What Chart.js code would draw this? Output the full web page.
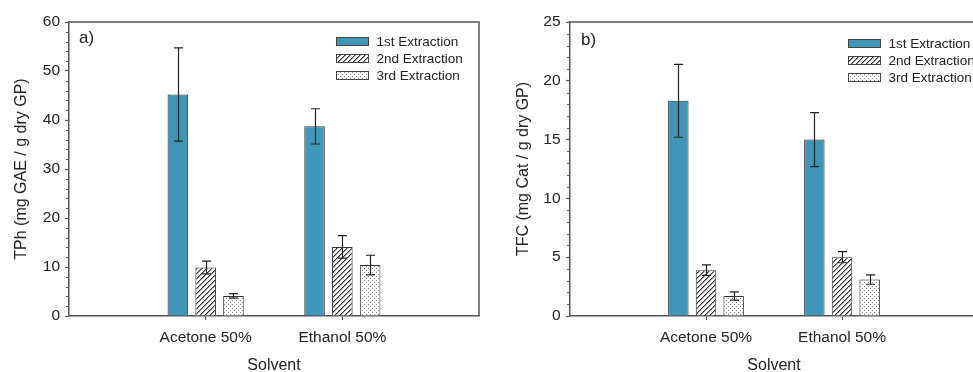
<!DOCTYPE html>
<html>
<head>
<meta charset="utf-8">
<script src="https://cdn.jsdelivr.net/npm/chart.js@4.4.1/dist/chart.umd.min.js"></script>
<style>
  html, body { margin: 0; padding: 0; background: #fff; }
  #wrap { position: relative; width: 973px; height: 372px; overflow: hidden; }
  .panel { position: absolute; top: 0; }
  #panelA { left: 0; }
  #panelB { left: 490px; }
</style>
</head>
<body>
<div id="wrap">
  <div class="panel" id="panelA"><canvas id="chartA" width="490" height="380"></canvas></div>
  <div class="panel" id="panelB"><canvas id="chartB" width="500" height="380"></canvas></div>
</div>
<script>
// categories and series
const solvents = ['Acetone 50%', 'Ethanol 50%'];
const extractions = ['1st Extraction', '2nd Extraction', '3rd Extraction'];

// a) total phenolics, mg GAE / g dry GP
const tphFirst = [45.2, 38.7];
const tphSecond = [9.9, 14.1];
const tphThird = [4.1, 10.4];
const tphFirstErr = [9.5, 3.6];
const tphSecondErr = [1.3, 2.3];
const tphThirdErr = [0.45, 2.0];

// b) total flavonoids, mg Cat / g dry GP
const tfcFirst = [18.3, 15.0];
const tfcSecond = [3.9, 5.0];
const tfcThird = [1.7, 3.1];
const tfcFirstErr = [3.1, 2.3];
const tfcSecondErr = [0.45, 0.47];
const tfcThirdErr = [0.35, 0.4];

Chart.defaults.font.family = "'Liberation Sans', Arial, sans-serif";
Chart.defaults.color = '#222';

const AXIS = '#555';
const BLUE = '#4096b6';

function hatch(ctx) {
  const c = document.createElement('canvas');
  c.width = 5; c.height = 5;
  const g = c.getContext('2d');
  g.fillStyle = '#fff'; g.fillRect(0, 0, 5, 5);
  g.fillStyle = '#333';
  for (let i = 0; i < 5; i++) g.fillRect(i, 4 - i, 1, 1);
  g.fillStyle = '#999';
  for (let i = 0; i < 5; i++) g.fillRect((i + 1) % 5, 4 - i, 1, 1);
  return ctx.createPattern(c, 'repeat');
}

function dots(ctx) {
  const c = document.createElement('canvas');
  c.width = 4; c.height = 4;
  const g = c.getContext('2d');
  g.fillStyle = '#fff'; g.fillRect(0, 0, 4, 4);
  g.fillStyle = '#8a8a8a';
  g.fillRect(0, 0, 1, 1);
  g.fillRect(2, 2, 1, 1);
  return ctx.createPattern(c, 'repeat');
}

// pad with empty slots on both ends so the groups sit at 1/3 and 2/3
const pad = arr => [null, ...arr, null];

// error bars, frame, minor ticks, panel letter and legend
const decor = {
  id: 'decor',
  afterDatasetsDraw(chart, args, opts) {
    const ctx = chart.ctx;
    const y = chart.scales.y;
    ctx.save();
    ctx.strokeStyle = '#222';
    ctx.lineWidth = 1.2;
    chart.data.datasets.forEach((ds, i) => {
      chart.getDatasetMeta(i).data.forEach((bar, j) => {
        const v = ds.data[j];
        if (v == null) return;
        const e = ds.errors[j];
        const top = y.getPixelForValue(v + e);
        const bot = y.getPixelForValue(v - e);
        const x = Math.round(bar.x) + 0.5;
        ctx.beginPath();
        ctx.moveTo(x, top); ctx.lineTo(x, bot);
        ctx.moveTo(x - 4.5, top); ctx.lineTo(x + 4.5, top);
        ctx.moveTo(x - 4.5, bot); ctx.lineTo(x + 4.5, bot);
        ctx.stroke();
      });
    });
    ctx.restore();
  },
  afterDraw(chart, args, opts) {
    const ctx = chart.ctx;
    const a = chart.chartArea;
    const y = chart.scales.y;
    ctx.save();
    // top and right frame
    ctx.strokeStyle = AXIS;
    ctx.lineWidth = 1.5;
    ctx.beginPath();
    ctx.moveTo(a.left, a.top);
    ctx.lineTo(a.right, a.top);
    ctx.lineTo(a.right, a.bottom);
    ctx.stroke();
    // minor ticks on y
    ctx.lineWidth = 1;
    ctx.beginPath();
    for (let v = y.min; v <= y.max + 1e-9; v += opts.minor) {
      if (Math.abs(v / opts.major - Math.round(v / opts.major)) < 1e-6) continue;
      const py = Math.round(y.getPixelForValue(v)) + 0.5;
      ctx.moveTo(a.left - 3, py);
      ctx.lineTo(a.left, py);
    }
    ctx.stroke();
    // panel letter
    ctx.fillStyle = '#222';
    ctx.font = "17px 'Liberation Sans', Arial, sans-serif";
    ctx.textBaseline = 'middle';
    ctx.textAlign = 'left';
    ctx.fillText(opts.letter, a.left + opts.letterX, a.top + opts.letterY);
    // legend
    ctx.font = "13.5px 'Liberation Sans', Arial, sans-serif";
    chart.data.datasets.forEach((ds, i) => {
      const bx = Math.round(a.left + opts.legendX) + 0.5;
      const by = Math.round(a.top + opts.legendY + i * 17.2) - 3.5;
      ctx.fillStyle = ds.backgroundColor;
      ctx.fillRect(bx, by, 32, 8);
      ctx.strokeStyle = '#444';
      ctx.lineWidth = 1;
      ctx.strokeRect(bx, by, 32, 8);
      ctx.fillStyle = '#222';
      ctx.fillText(ds.label, bx + 40, by + 4.5);
    });
    ctx.restore();
  }
};

function makeChart(id, cfg) {
  const canvas = document.getElementById(id);
  const ctx = canvas.getContext('2d');
  const fills = [BLUE, hatch(ctx), dots(ctx)];
  const datasets = cfg.values.map((vals, i) => ({
    label: extractions[i],
    data: pad(vals),
    errors: pad(cfg.errors[i]),
    backgroundColor: fills[i],
    borderColor: '#333',
    borderWidth: 1,
    categoryPercentage: 0.61,
    barPercentage: 0.74
  }));
  return new Chart(ctx, {
    type: 'bar',
    data: { labels: ['', ...solvents, ''], datasets },
    plugins: [decor],
    options: {
      responsive: false,
      animation: false,
      events: [],
      layout: { padding: { left: 0, top: 22, right: cfg.padRight, bottom: 0 } },
      plugins: {
        legend: { display: false },
        tooltip: { enabled: false },
        decor: cfg.decor
      },
      scales: {
        x: {
          type: 'category',
          offset: false,
          grid: {
            offset: false,
            drawOnChartArea: false,
            tickLength: 4,
            tickWidth: 1.2,
            tickColor: c => (c.index === 0 || c.index === 3) ? 'rgba(0,0,0,0)' : AXIS
          },
          border: { color: AXIS, width: 1.5 },
          ticks: { font: { size: 15.5 }, padding: 8.4, maxRotation: 0, autoSkip: false },
          title: { display: true, text: 'Solvent', font: { size: 16 }, padding: { top: 0, bottom: 4.7 } },
          afterFit: s => { s.height = 64; }
        },
        y: {
          min: 0,
          max: cfg.yMax,
          ticks: { stepSize: cfg.yStep, font: { size: 15.5 }, padding: cfg.yPad },
          grid: { drawOnChartArea: false, tickLength: 4, tickWidth: 1.2, tickColor: AXIS },
          border: { color: AXIS, width: 1.5 },
          title: { display: true, text: cfg.yTitle, font: { size: 16 }, padding: { top: cfg.yTitlePad, bottom: 0 } },
          afterFit: s => { s.width = cfg.yWidth; }
        }
      }
    }
  });
}

makeChart('chartA', {
  values: [tphFirst, tphSecond, tphThird],
  errors: [tphFirstErr, tphSecondErr, tphThirdErr],
  yMax: 60, yStep: 10, yPad: 5,
  yTitle: 'TPh (mg GAE / g dry GP)', yTitlePad: 12.4,
  yWidth: 69, padRight: 11,
  decor: { minor: 2, major: 10, letter: 'a)', letterX: 10, letterY: 16.5, legendX: 267, legendY: 18.7 }
});

makeChart('chartB', {
  values: [tfcFirst, tfcSecond, tfcThird],
  errors: [tfcFirstErr, tfcSecondErr, tfcThirdErr],
  yMax: 25, yStep: 5, yPad: 5.5,
  yTitle: 'TFC (mg Cat / g dry GP)', yTitlePad: 24.4,
  yWidth: 80, padRight: 12,
  decor: { minor: 1, major: 5, letter: 'b)', letterX: 11, letterY: 18, legendX: 278, legendY: 21 }
});
</script>
</body>
</html>
